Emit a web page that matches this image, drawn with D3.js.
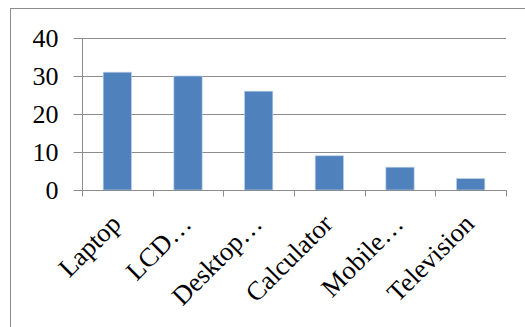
<!DOCTYPE html>
<html><head><meta charset="utf-8">
<script src="https://cdn.jsdelivr.net/npm/d3@7"></script>
<style>html,body{margin:0;padding:0;background:#fff;}svg{display:block;}</style>
</head><body>
<script>
const categories = ["Laptop", "LCD…", "Desktop…", "Calculator", "Mobile…", "Television"];
const values = [31, 30, 26, 9, 6, 3];
const yTicks = [0, 10, 20, 30, 40];

(function () {
const W = 525, H = 327;
const svg = d3.select("body").append("svg").attr("width", W).attr("height", H);

// outer chart frame
svg.append("rect").attr("x", 10.5).attr("y", 8.5).attr("width", 530).attr("height", 340)
  .attr("fill", "#fff").attr("stroke", "#8c8c8c").attr("stroke-width", 1);

const pl = 82, pr = 506, pt = 38, pb = 190;
const x = d3.scaleBand().domain(categories).range([pl, pr]).paddingInner(0.6).paddingOuter(0.3);
const xb = d3.scaleBand().domain(categories).range([pl, pr]);
const y = d3.scaleLinear().domain([0, 40]).range([pb, pt]);

const font = "'Liberation Serif', 'DejaVu Serif', serif";

// gridlines
svg.append("g").selectAll("line").data(yTicks.filter(d => d > 0)).join("line")
  .attr("x1", pl).attr("x2", pr)
  .attr("y1", d => Math.round(y(d)) + 0.5).attr("y2", d => Math.round(y(d)) + 0.5)
  .attr("stroke", "#8c8c8c").attr("stroke-width", 1);

// bars
svg.append("g").selectAll("rect").data(values).join("rect")
  .attr("x", (d, i) => x(categories[i]))
  .attr("y", d => y(d))
  .attr("width", x.bandwidth())
  .attr("height", d => y(0) - y(d))
  .attr("fill", "#4f81bd")
  .attr("stroke", "#b9cde5").attr("stroke-width", 0.7);

// y axis
const yAxis = d3.axisLeft(y).tickValues(yTicks).tickSize(9).tickPadding(15);
const gy = svg.append("g").attr("transform", `translate(${pl + 0.5},0)`).call(yAxis);
gy.select(".domain").attr("stroke", "#8c8c8c").attr("d", `M0,${pt}V${pb}`);
gy.selectAll(".tick line").attr("stroke", "#8c8c8c");
gy.selectAll(".tick text").attr("font-family", font).attr("font-size", 26).attr("fill", "#000")
  .attr("dy", "0.34em");

// x axis
const gx = svg.append("g").attr("transform", `translate(0,${pb + 0.5})`);
gx.append("line").attr("x1", pl).attr("x2", pr + 1).attr("stroke", "#8c8c8c");
const tickX = categories.map(c => xb(c)).concat([pr]);
gx.selectAll("line.t").data(tickX).join("line").attr("class", "t")
  .attr("x1", d => Math.round(d) + 0.5).attr("x2", d => Math.round(d) + 0.5)
  .attr("y1", 0).attr("y2", 6).attr("stroke", "#8c8c8c");

gx.selectAll("text").data(categories).join("text")
  .attr("transform", c => `translate(${xb(c) + xb.bandwidth() / 2 + 5},${35}) rotate(-45)`)
  .attr("text-anchor", "end")
  .attr("font-family", font).attr("font-size", 26.5).attr("fill", "#000")
  .text(c => c);
})();
</script>
</body></html>
